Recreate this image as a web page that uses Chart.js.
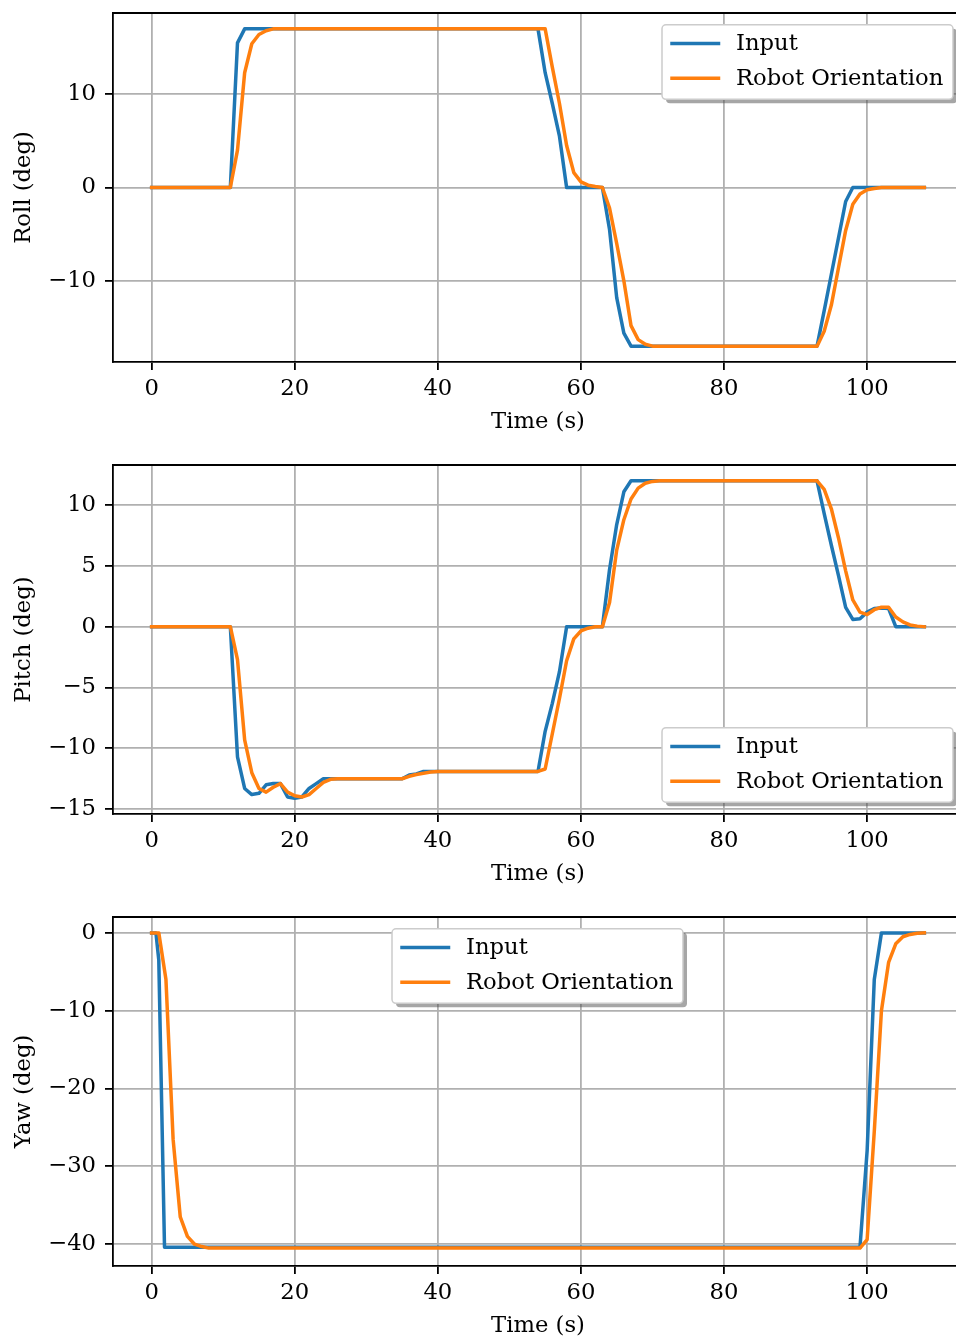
<!DOCTYPE html>
<html>
<head>
<meta charset="utf-8">
<script src="https://cdn.jsdelivr.net/npm/chart.js@4.4.1/dist/chart.umd.min.js"></script>
<style>
  html, body { margin: 0; padding: 0; background: #fff; overflow: hidden; width: 956px; height: 1338px; }
  canvas { position: absolute; left: 0; }
</style>
</head>
<body>
<canvas id="rollChart" width="990" height="452" style="top:0px"></canvas>
<canvas id="pitchChart" width="990" height="452" style="top:452px"></canvas>
<canvas id="yawChart" width="990" height="452" style="top:904px"></canvas>
<script>
// ---- data (time in s, angle in deg) ----
const timeTicks = [0, 20, 40, 60, 80, 100];
const timeRange = [-5.4, 113.4];

const rollTicks = [-10, 0, 10];
const rollRange = [-18.7, 18.7];
const rollInput = [[0,0],[11,0],[12,15.5],[13,17],[54,17],[55,12.3],[56,9.0],[57,5.5],[58,0],[63,0],[64,-4.5],[65,-11.8],[66,-15.6],[67,-17],[93,-17],[94,-13.2],[95,-9.3],[96,-5.4],[97,-1.5],[98,0],[108,0]];
const rollRobot = [[0,0],[11,0],[12,4.0],[13,12.3],[14,15.4],[15,16.4],[16,16.8],[17,17],[55,17],[56,12.9],[57,9.0],[58,4.5],[59,1.6],[60,0.6],[61,0.25],[62,0.1],[63,0],[64,-2.2],[65,-6.0],[66,-10.0],[67,-14.8],[68,-16.3],[69,-16.8],[70,-17],[93,-17],[94,-15.4],[95,-12.6],[96,-8.6],[97,-4.6],[98,-1.8],[99,-0.7],[100,-0.25],[101,-0.1],[102,0],[108,0]];

const pitchTicks = [-15, -10, -5, 0, 5, 10];
const pitchRange = [-15.4, 13.3];
const pitchInput = [[0,0],[11,0],[12,-10.7],[13,-13.3],[14,-13.8],[15,-13.7],[16,-13.0],[17,-12.9],[18,-12.9],[19,-14.0],[20,-14.1],[21,-14.0],[22,-13.3],[23,-12.9],[24,-12.5],[35,-12.5],[36,-12.2],[37,-12.1],[38,-11.9],[54,-11.9],[55,-8.6],[56,-6.3],[57,-3.7],[58,0],[63,0],[64,4.7],[65,8.4],[66,11.1],[67,12.0],[93,12.0],[94,9.3],[95,6.7],[96,4.2],[97,1.6],[98,0.6],[99,0.65],[100,1.2],[101,1.5],[102,1.55],[103,1.5],[104,0],[108,0]];
const pitchRobot = [[0,0],[11,0],[12,-2.7],[13,-9.3],[14,-12.0],[15,-13.3],[16,-13.6],[17,-13.2],[18,-12.9],[19,-13.6],[20,-13.9],[21,-14.0],[22,-13.8],[23,-13.3],[24,-12.8],[25,-12.55],[26,-12.5],[35,-12.5],[36,-12.3],[37,-12.15],[38,-12.05],[39,-11.95],[40,-11.9],[54,-11.9],[55,-11.7],[56,-8.8],[57,-5.9],[58,-2.8],[59,-1.0],[60,-0.35],[61,-0.12],[62,0],[63,0],[64,2.0],[65,6.3],[66,8.8],[67,10.5],[68,11.4],[69,11.8],[70,11.95],[71,12.0],[93,12.0],[94,11.3],[95,9.7],[96,7.3],[97,4.6],[98,2.2],[99,1.2],[100,1.0],[101,1.4],[102,1.6],[103,1.6],[104,0.8],[105,0.4],[106,0.15],[107,0.05],[108,0]];

const yawTicks = [-40, -30, -20, -10, 0];
const yawRange = [-42.8, 2.04];
const yawInput = [[0,0],[0.6,0],[1,-3.5],[1.8,-40.4],[99,-40.4],[100,-28],[101,-6],[102,0],[108,0]];
const yawRobot = [[0,0],[1,0],[2,-6],[3,-26.5],[4,-36.5],[5,-39],[6,-40],[7,-40.3],[8,-40.5],[99,-40.5],[100,-39.4],[101,-25.5],[102,-10],[103,-3.8],[104,-1.4],[105,-0.5],[106,-0.2],[107,-0.05],[108,0]];

const seriesNames = ["Input", "Robot Orientation"];
const seriesColors = ["#1f77b4", "#ff7f0e"];

// ---- style ----
const FONT = { family: "'DejaVu Serif', serif", size: 22.7 };
const LINE_W = 3.5;
const CANVAS_H = 452;
const PLOT_TOP = 13;
const PLOT_BOTTOM = 362;
const PLOT_LEFT = 113;
const PLOT_RIGHT = 963;
const CANVAS_W = 990;

function fmt(v) {
  return v < 0 ? "\u2212" + Math.abs(v) : String(v);
}

// top/right spines + matplotlib-like legend box
const frameLegend = {
  id: "frameLegend",
  afterDraw(chart, args, opts) {
    const ctx = chart.ctx;
    const a = chart.chartArea;
    ctx.save();
    ctx.strokeStyle = "#000";
    ctx.lineWidth = 1.8;
    ctx.beginPath();
    ctx.moveTo(a.left, a.top);
    ctx.lineTo(a.right, a.top);
    ctx.lineTo(a.right, a.bottom);
    ctx.stroke();

    const w = 291, h = 74.5, gap = 11.8;
    let x0, y0;
    if (opts.loc === "upper right") { x0 = a.right - 10 - w; y0 = a.top + gap; }
    else if (opts.loc === "lower right") { x0 = a.right - 10 - w; y0 = a.bottom - gap - h; }
    else { x0 = (a.left + a.right) / 2 - w / 2 - 0.5; y0 = a.top + gap; }

    ctx.fillStyle = "rgba(77,77,77,0.5)";
    ctx.beginPath();
    ctx.roundRect(x0 + 4, y0 + 4, w, h, 4);
    ctx.fill();
    ctx.fillStyle = "#fff";
    ctx.strokeStyle = "#cccccc";
    ctx.lineWidth = 1.5;
    ctx.beginPath();
    ctx.roundRect(x0, y0, w, h, 4);
    ctx.fill();
    ctx.stroke();

    ctx.font = FONT.size + "px " + FONT.family;
    ctx.textBaseline = "middle";
    ctx.textAlign = "left";
    chart.data.datasets.forEach((ds, i) => {
      const y = y0 + 18.7 + i * 34.8;
      ctx.strokeStyle = ds.borderColor;
      ctx.lineWidth = LINE_W;
      ctx.lineCap = "square";
      ctx.beginPath();
      ctx.moveTo(x0 + 10, y);
      ctx.lineTo(x0 + 56.5, y);
      ctx.stroke();
      ctx.fillStyle = "#000";
      ctx.fillText(ds.label, x0 + 74, y + 1);
    });
    ctx.restore();
  }
};

function makeChart(id, yLabel, input, robot, yTicks, yRange, legendLoc) {
  const toXY = arr => arr.map(p => ({ x: p[0], y: p[1] }));
  return new Chart(document.getElementById(id), {
    type: "line",
    data: {
      datasets: [
        { label: seriesNames[0], data: toXY(input), borderColor: seriesColors[0], order: 1 },
        { label: seriesNames[1], data: toXY(robot), borderColor: seriesColors[1], order: 0 }
      ]
    },
    options: {
      responsive: false,
      animation: false,
      events: [],
      layout: { padding: { left: 0, right: CANVAS_W - PLOT_RIGHT, top: PLOT_TOP, bottom: 0 } },
      elements: {
        point: { radius: 0 },
        line: { borderWidth: LINE_W, tension: 0, borderJoinStyle: "round", borderCapStyle: "square", fill: false }
      },
      plugins: {
        legend: { display: false },
        tooltip: { enabled: false },
        frameLegend: { loc: legendLoc }
      },
      scales: {
        x: {
          type: "linear",
          min: timeRange[0],
          max: timeRange[1],
          afterBuildTicks: s => { s.ticks = timeTicks.map(v => ({ value: v })); },
          afterFit: s => { s.height = CANVAS_H - PLOT_BOTTOM; s.paddingLeft = 0; s.paddingRight = 0; },
          grid: { color: "#b0b0b0", lineWidth: 1.8, drawTicks: true, tickLength: 8, tickColor: "#000", tickWidth: 1.8 },
          border: { display: true, color: "#000", width: 1.8 },
          ticks: { color: "#000", font: FONT, padding: 5, maxRotation: 0, autoSkip: false, callback: v => fmt(v) },
          title: { display: true, text: "Time (s)", color: "#000", font: FONT, padding: { top: 0, bottom: 16.5 } }
        },
        y: {
          type: "linear",
          min: yRange[0],
          max: yRange[1],
          afterBuildTicks: s => { s.ticks = yTicks.map(v => ({ value: v })); },
          afterFit: s => { s.width = PLOT_LEFT; s.paddingTop = 0; s.paddingBottom = 0; },
          grid: { color: "#b0b0b0", lineWidth: 1.8, drawTicks: true, tickLength: 8, tickColor: "#000", tickWidth: 1.8 },
          border: { display: true, color: "#000", width: 1.8 },
          ticks: { color: "#000", font: FONT, padding: 9, autoSkip: false, callback: v => fmt(v) },
          title: { display: true, text: yLabel, color: "#000", font: FONT, padding: { top: 10, bottom: 0 } }
        }
      }
    },
    plugins: [frameLegend]
  });
}

makeChart("rollChart", "Roll (deg)", rollInput, rollRobot, rollTicks, rollRange, "upper right");
makeChart("pitchChart", "Pitch (deg)", pitchInput, pitchRobot, pitchTicks, pitchRange, "lower right");
makeChart("yawChart", "Yaw (deg)", yawInput, yawRobot, yawTicks, yawRange, "upper center");
</script>
</body>
</html>
